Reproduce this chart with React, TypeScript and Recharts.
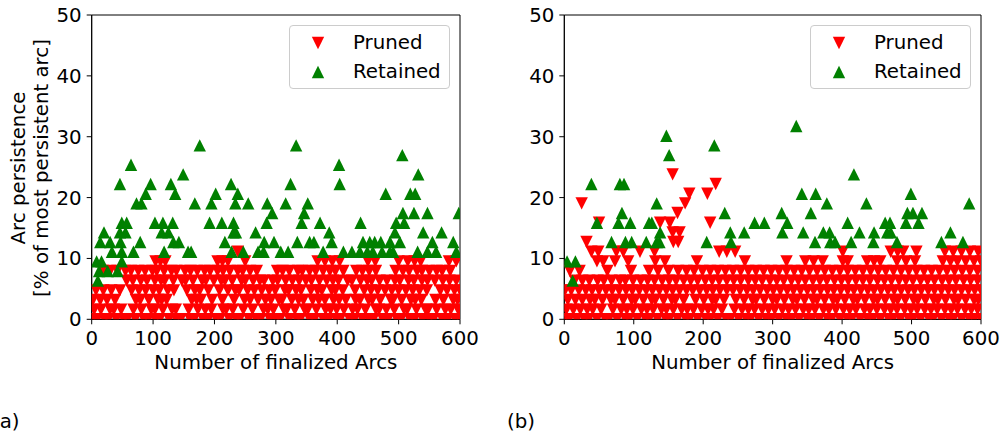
import React from 'react';
import { ScatterChart, Scatter, XAxis, YAxis, ReferenceArea, Legend, Label } from 'recharts';

const FONT = 'DejaVu Sans';
const FS = 19.8;

const xTicks = [0, 100, 200, 300, 400, 500, 600];
const yTicks = [0, 10, 20, 30, 40, 50];
const seriesNames = ['Pruned', 'Retained'];
const seriesColors = ['#ff0000', '#008000'];
const xTitle = 'Number of finalized Arcs';
const yTitle1 = 'Arc persistence';
const yTitle2 = '[% of most persistent arc]';

// ---------- (a) Pruned: x positions per persistence level ----------
const aPruned00 = [0,9,21,27,40,52,58,71,85,92,104,111,126,138,145,160,167,181,190,203,209,224,236,241,256,268,275,290,301,307,322,334,340,355,363,377,386,398,405,420,428,441,452,459,474,483,497,504,518,526,539,550,557,571,580,592,600];
const aPruned01 = [4,15,30,36,48,68,81,97,103,116,131,137,158,173,185,195,214,219,230,247,262,280,287,296,313,318,331,347,352,366,381,389,399,411,425,433,446,463,468,480,493,509,514,529,544,548,562,576,585,597];
const aPruned02 = [2,14,25,38,72,79,93,108,114,122,163,171,178,196,213,232,249,258,271,283,292,305,310,326,337,345,360,370,380,394,403,414,430,437,451,457,470,487,491,505,520,527,537,560,573,589,596];
const aPruned03 = [7,19,32,46,65,77,88,100,110,124,134,155,168,176,190,208,222,234,240,254,265,277,289,299,315,321,333,341,357,368,375,391,397,409,429,444,455,466,478,489,500,512,523,534,546,568,579,591,600];
const aPruned04 = [57,67,80,90,103,113,119,133,147,153,165,180,186,199,211,217,229,244,250,263,274,281,295,303,316,327,338,349,358,371,383,393,402,417,424,438,449,456,469,481,494,502,516,525,538,547,559,572,583,594];
const aPruned05 = [18,30,42,55,64,76,87,99,106,118,130,138,152,161,172,184,193,205,214,225,238,246,258,269,302,311,322,336,343,355,365,377,388,397,410,431,441,452,463,495,507,517,530,538,550,562,571,584];
const aPruned06 = [104,112,120,205,213,222,250,368,380,392,404,450,462,500,515,526,536,582,594];
const aPruned07 = [238];

// ---------- (a) Retained ----------
const aRet04 = [10];
const aRet05 = [12, 26, 42];
const aRet06 = [8, 16, 49];
const aRet07 = [33,49,68,118,157,162,228,247,271,280,308,320,377,410,424,437,449,458,473,486,491,531,547,561,594];
const aRet08 = [14,30,47,79,133,142,217,281,297,335,355,362,391,442,453,461,471,486,502,555,589];
const aRet09 = [20,46,55,114,125,231,235,267,387,494,540,570];
const aRet10 = [49,57,103,116,132,192,212,231,285,342,372,438,496,509];
const aRet11 = [294,346,507,525,547,598];
const aRet12 = [73,81,168,195,234,255,286,316,352];
const aRet13 = [88,136,202,238,479,519,527];
const aRet14 = [46,96,129,227,324,404];
const aRet15 = [149,532];
const aRet16 = [64,403];
const aRet17 = [506];
const aRet18 = [176,333];

// ---------- (b) Pruned ----------
const bPruned00 = [0,7,18,29,35,47,59,64,76,88,93,105,117,122,134,146,151,163,175,180,192,204,210,221,233,239,251,262,268,280,291,298,309,320,327,338,350,356,367,379,385,397,408,414,426,437,444,455,467,473,484,496,502,513,525,531,543,554,560,572,583,590,600];
const bPruned01 = [3,13,23,33,41,53,70,82,90,99,111,119,128,140,147,157,169,177,186,198,207,215,227,245,256,265,274,285,294,303,314,323,333,344,352,361,373,381,391,402,411,420,432,440,450,461,470,479,490,499,508,519,528,537,548,557,566,577,586,595];
const bPruned02 = [5,16,26,37,44,55,67,73,85,97,102,114,126,131,143,155,160,172,189,201,213,218,230,247,259,271,276,288,300,306,317,329,335,346,358,364,375,387,393,404,416,422,433,445,451,462,474,480,491,503,509,520,532,538,549,561,567,578,590,596];
const bPruned03 = [1,10,21,31,40,50,60,69,79,89,98,108,118,127,137,147,156,166,176,185,195,205,214,224,234,243,253,263,272,282,292,301,311,321,330,340,350,359,369,379,388,398,408,417,427,437,446,456,466,475,485,495,504,514,524,533,543,553,562,572,582,591,600];
const bPruned04 = [15,26,36,48,57,68,80,88,99,110,120,130,141,151,161,172,182,192,203,213,223,234,244,254,265,275,285,296,306,316,327,337,347,358,368,378,389,399,409,420,430,440,451,461,471,482,492,502,513,523,533,544,554,564,575,585,595];
const bPruned05 = [8,22,62,96,122,135,150,164,176,187,199,210,221,232,243,254,265,276,287,298,309,320,331,342,353,364,375,386,397,408,419,430,441,452,463,474,485,496,507,518,529,540,551,562,573,584,595];
const bPruned06 = [47,56,73,92,131,145,191,260,320,347,359,372,401,408,436,446,455,479,492,505,545,556,566,578,590,600];
const bPruned07 = [39,49,75,85,109,130,223,234,246,401,470,480,488,507,548,560,572,584,596];
const bPruned08 = [32,157,164];
const bPruned09 = [156,166];
const bPruned10 = [50,138,152,210];
const bPruned11 = [163];
const bPruned12 = [25,174];
const bPruned13 = [180,206];
const bPruned14 = [218];
const bPruned15 = [156];

// ---------- (b) Retained ----------
const bRet04 = [12];
const bRet06 = [4, 16];
const bRet08 = [68,88,97,118,133,137,205,240,361,383,390,413,445,479,543,574];
const bRet09 = [138,239,259,314,344,373,382,425,446,465,470,556];
const bRet10 = [47,78,95,122,126,274,288,321,408,462,469,492,510];
const bRet11 = [83,231,313,355,494,502,515];
const bRet12 = [133,378,435,583];
const bRet13 = [342,362,499];
const bRet14 = [39,80,86];
const bRet15 = [417];
const bRet17 = [151];
const bRet18 = [216];
const bRet19 = [147];
const bRet20 = [334];

// persistence levels (% of most persistent arc)
const levels = [0, 1.59, 3.17, 4.76, 6.35, 7.94, 9.52, 11.11, 12.7, 14.29, 15.87, 17.46, 19.05, 20.63, 22.22, 23.81, 25.4, 26.98, 28.57, 30.16, 31.75];

type Row = [number, number[]];
const aPrunedRows: Row[] = [[0, aPruned00],[1, aPruned01],[2, aPruned02],[3, aPruned03],[4, aPruned04],[5, aPruned05],[6, aPruned06],[7, aPruned07]];
const aRetainedRows: Row[] = [[4, aRet04],[5, aRet05],[6, aRet06],[7, aRet07],[8, aRet08],[9, aRet09],[10, aRet10],[11, aRet11],[12, aRet12],[13, aRet13],[14, aRet14],[15, aRet15],[16, aRet16],[17, aRet17],[18, aRet18]];
const bPrunedRows: Row[] = [[0, bPruned00],[1, bPruned01],[2, bPruned02],[3, bPruned03],[4, bPruned04],[5, bPruned05],[6, bPruned06],[7, bPruned07],[8, bPruned08],[9, bPruned09],[10, bPruned10],[11, bPruned11],[12, bPruned12],[13, bPruned13],[14, bPruned14],[15, bPruned15]];
const bRetainedRows: Row[] = [[4, bRet04],[6, bRet06],[8, bRet08],[9, bRet09],[10, bRet10],[11, bRet11],[12, bRet12],[13, bRet13],[14, bRet14],[15, bRet15],[17, bRet17],[18, bRet18],[19, bRet19],[20, bRet20]];

const toPoints = (rows: Row[]) => rows.flatMap(([k, xs]) => xs.map((x) => ({ x, y: levels[k] })));

const H = 6.2;
const TriDown = (p: any) => {
  const { cx, cy, fill } = p;
  if (cx == null || cy == null) return <g />;
  return <path d={`M${cx - H},${cy - H}L${cx + H},${cy - H}L${cx},${cy + H}Z`} fill={fill} />;
};
const TriUp = (p: any) => {
  const { cx, cy, fill } = p;
  if (cx == null || cy == null) return <g />;
  return <path d={`M${cx - H},${cy + H}L${cx + H},${cy + H}L${cx},${cy - H}Z`} fill={fill} />;
};

const LegendBox = () => (
  <div style={{ width: 161, height: 64, boxSizing: 'border-box', border: '1px solid #cccccc', borderRadius: 4, background: 'rgba(255,255,255,0.8)', position: 'relative', fontFamily: FONT, fontSize: FS, color: '#000' }}>
    {seriesNames.map((name, i) => (
      <div key={name} style={{ position: 'absolute', left: 0, top: i === 0 ? 5 : 34, height: 24, width: 161 }}>
        <svg width={20} height={20} style={{ position: 'absolute', left: 18, top: 2 }}>
          {i === 0 ? (
            <path d={`M${10 - H},${10 - H}L${10 + H},${10 - H}L10,${10 + H}Z`} fill={seriesColors[0]} />
          ) : (
            <path d={`M${10 - H},${10 + H}L${10 + H},${10 + H}L10,${10 - H}Z`} fill={seriesColors[1]} />
          )}
        </svg>
        <span style={{ position: 'absolute', left: 63, top: 0, lineHeight: '24px', whiteSpace: 'nowrap' }}>{name}</span>
      </div>
    ))}
  </div>
);

const YTitle = () => (
  <g>
    <text x={25} y={168} transform="rotate(-90, 25, 168)" textAnchor="middle" fontFamily={FONT} fontSize={FS} fill="#000">{yTitle1}</text>
    <text x={47.5} y={168} transform="rotate(-90, 47.5, 168)" textAnchor="middle" fontFamily={FONT} fontSize={FS} fill="#000">{yTitle2}</text>
  </g>
);

const tickStyle = { fill: '#000', fontSize: FS, fontFamily: FONT };

function Panel({ width, ml, mr, pruned, retained, showY }: { width: number; ml: number; mr: number; pruned: any[]; retained: any[]; showY: boolean }) {
  return (
    <ScatterChart width={width} height={439} margin={{ top: 15, right: mr, bottom: 89.7, left: ml }}>
      <XAxis type="number" dataKey="x" domain={[0, 600]} ticks={xTicks} interval={0} allowDataOverflow height={30}
        tickSize={5} tickMargin={7} stroke="#000" tick={tickStyle} tickLine={{ stroke: '#000' }} axisLine={{ stroke: '#000' }}>
        <Label value={xTitle} position="bottom" offset={6} fill="#000" fontSize={FS} fontFamily={FONT} />
      </XAxis>
      <YAxis type="number" dataKey="y" domain={[0, 50]} ticks={yTicks} interval={0} allowDataOverflow width={60}
        tickSize={5} tickMargin={5} stroke="#000" tick={tickStyle} tickLine={{ stroke: '#000' }} axisLine={{ stroke: '#000' }}>
        {showY ? <Label content={<YTitle />} /> : null}
      </YAxis>
      <Scatter name={seriesNames[0]} data={pruned} fill={seriesColors[0]} shape={<TriDown />} isAnimationActive={false} />
      <Scatter name={seriesNames[1]} data={retained} fill={seriesColors[1]} shape={<TriUp />} isAnimationActive={false} />
      <ReferenceArea x1={0} x2={600} y1={0} y2={50} fill="none" fillOpacity={0} stroke="#000" strokeWidth={1} />
      <Legend layout="vertical" align="center" verticalAlign="middle" content={<LegendBox />}
        wrapperStyle={{ left: width - mr - 171, top: 25, width: 161, height: 64 }} />
    </ScatterChart>
  );
}

export default function App() {
  return (
    <div style={{ position: 'absolute', left: 0, top: 0, width: 1003, height: 439, background: '#fff', overflow: 'hidden' }}>
      <div style={{ position: 'absolute', left: 0, top: 0 }}>
        <Panel width={480} ml={31.7} mr={20} pruned={toPoints(aPrunedRows)} retained={toPoints(aRetainedRows)} showY />
      </div>
      <div style={{ position: 'absolute', left: 480, top: 0 }}>
        <Panel width={523} ml={24.3} mr={22} pruned={toPoints(bPrunedRows)} retained={toPoints(bRetainedRows)} showY={false} />
      </div>
      <svg width={1003} height={439} style={{ position: 'absolute', left: 0, top: 0, pointerEvents: 'none' }}>
        <text x={-8} y={428} fontFamily={FONT} fontSize={FS} fill="#000">(a)</text>
        <text x={507} y={428} fontFamily={FONT} fontSize={FS} fill="#000">(b)</text>
      </svg>
    </div>
  );
}
